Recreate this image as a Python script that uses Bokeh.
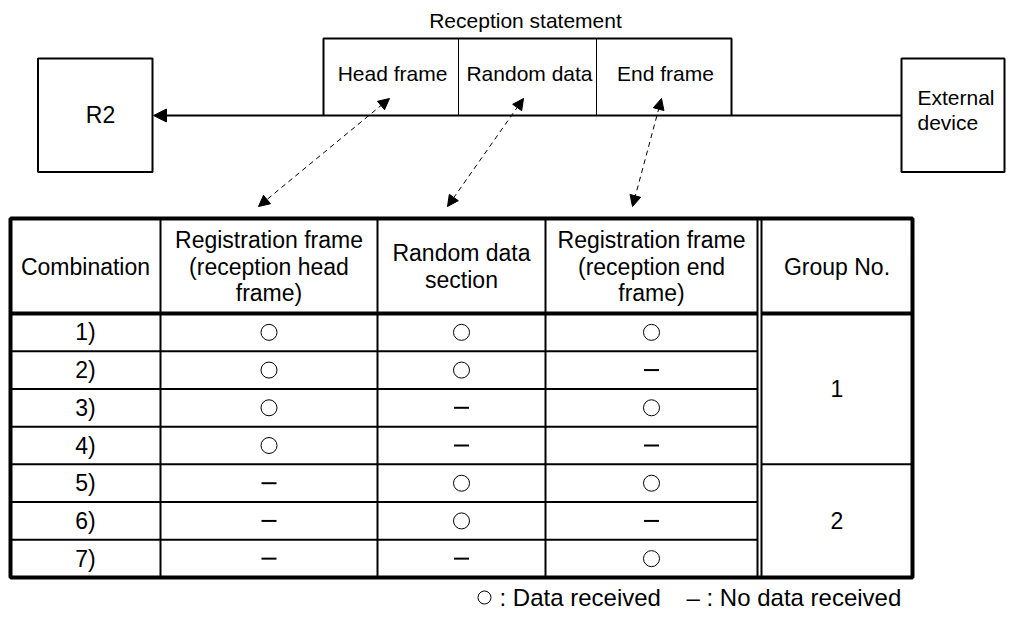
from bokeh.plotting import figure
from bokeh.models import Range1d, Arrow, NormalHead
from bokeh.core.properties import value
from bokeh.embed import file_html
from bokeh.resources import INLINE

# ---------------- data ----------------
frame_parts = ["Head frame", "Random data", "End frame"]
combinations = ["1)", "2)", "3)", "4)", "5)", "6)", "7)"]
head_frame = ["○", "○", "○", "○", "–", "–", "–"]
random_data = ["○", "○", "–", "–", "○", "○", "–"]
end_frame = ["○", "–", "○", "–", "○", "–", "○"]
group_no = [1, 1, 1, 1, 2, 2, 2]
header_lines = [
    ["Combination"],
    ["Registration frame", "(reception head", "frame)"],
    ["Random data", "section"],
    ["Registration frame", "(reception end", "frame)"],
    ["Group No."],
]
legend_labels = [": Data received", "– : No data received"]

FONT = value("Liberation Sans")

# ---------------- layout (pixel coordinates of the page) ----------------
W, H = 1014, 621
p = figure(width=W, height=H, x_range=Range1d(0, W), y_range=Range1d(H, 0),
           output_backend="svg", toolbar_location=None,
           x_axis_location=None, y_axis_location=None, min_border=0)
p.grid.visible = False
p.outline_line_color = None
p.background_fill_color = "white"
p.border_fill_color = "white"

# ---- top diagram ----
LINE_Y = 115
rec_left, rec_right, rec_top = 323, 731, 38
rec_divs = [458, 596]
p.quad(left=[37.5], right=[152], top=[58], bottom=[171.5], fill_color=None, line_color="black", line_width=2)
p.quad(left=[901], right=[1004], top=[58], bottom=[171.5], fill_color=None, line_color="black", line_width=2)
# reception statement box (3 sides, bottom is the line)
p.multi_line(xs=[[rec_left, rec_left, rec_right, rec_right]], ys=[[LINE_Y, rec_top, rec_top, LINE_Y]],
             line_color="black", line_width=2)
p.segment(x0=rec_divs, x1=rec_divs, y0=[rec_top] * 2, y1=[LINE_Y] * 2, line_color="black", line_width=1)
p.add_layout(Arrow(end=NormalHead(size=13, fill_color="black", line_color="black", line_width=1),
                   x_start=901, y_start=LINE_Y, x_end=153, y_end=LINE_Y,
                   line_color="black", line_width=2))

p.text(x=[525], y=[20], text=["Reception statement"], text_font=FONT, text_font_size="21px",
       text_align="center", text_baseline="middle", text_color="black")
part_cx = [392, 529, 665]
p.text(x=part_cx, y=[73] * 3, text=frame_parts, text_font=FONT, text_font_size="21px",
       text_align="center", text_baseline="middle", text_color="black")
p.text(x=[100], y=[114], text=["R2"], text_font=FONT, text_font_size="23px",
       text_align="center", text_baseline="middle", text_color="black")
p.text(x=[917, 917], y=[97, 122], text=["External", "device"], text_font=FONT, text_font_size="21px",
       text_align="left", text_baseline="middle", text_color="black")

# dashed double arrows
arrow_top = [(389, 98), (523, 98), (661, 98)]
arrow_bot = [(258, 206), (447, 206), (632, 206)]
for (xs, ys), (xe, ye) in zip(arrow_top, arrow_bot):
    p.add_layout(Arrow(start=NormalHead(size=11, fill_color="black", line_color="black", line_width=1),
                       end=NormalHead(size=11, fill_color="black", line_color="black", line_width=1),
                       x_start=xs, y_start=ys, x_end=xe, y_end=ye,
                       line_color="black", line_width=1, line_dash="5 4"))

# ---- table ----
T_LEFT, T_RIGHT, T_TOP, H_BOT = 10, 912, 218, 313
ROW_H = (577 - 313) / 7
col_x = [160, 377, 545]
dbl = [757, 761]
row_y = [H_BOT + ROW_H * k for k in range(8)]

# thin inner vertical lines
p.segment(x0=col_x + dbl, x1=col_x + dbl, y0=[T_TOP] * 5, y1=[row_y[-1]] * 5, line_color="black", line_width=2)
# thin row lines
inner = row_y[1:-1]
p.segment(x0=[T_LEFT] * len(inner), x1=[dbl[0]] * len(inner), y0=inner, y1=inner, line_color="black", line_width=2)
# group separator
grp_break = [row_y[k] for k in range(1, 7) if group_no[k] != group_no[k - 1]]
p.segment(x0=[dbl[1]] * len(grp_break), x1=[T_RIGHT] * len(grp_break), y0=grp_break, y1=grp_break,
          line_color="black", line_width=2)
# header bottom thick
p.segment(x0=[T_LEFT, dbl[1]], x1=[dbl[0], T_RIGHT], y0=[H_BOT] * 2, y1=[H_BOT] * 2, line_color="black", line_width=4)
# outer border
p.quad(left=[T_LEFT], right=[T_RIGHT], top=[T_TOP], bottom=[row_y[-1]], fill_color=None, line_color="black", line_width=4)

# header text
col_edges = [T_LEFT] + col_x + [dbl[0]]
col_cx = [(col_edges[i] + col_edges[i + 1]) / 2 for i in range(4)] + [(dbl[1] + T_RIGHT) / 2]
hx, hy, ht = [], [], []
H_MID, LINE_H = 266, 26.5
for cx, lines in zip(col_cx, header_lines):
    n = len(lines)
    for i, t in enumerate(lines):
        hx.append(cx)
        hy.append(H_MID + (i - (n - 1) / 2) * LINE_H)
        ht.append(t)
p.text(x=hx, y=hy, text=ht, text_font=FONT, text_font_size="23px",
       text_align="center", text_baseline="middle", text_color="black")

row_cy = [(row_y[k] + row_y[k + 1]) / 2 for k in range(7)]
p.text(x=[col_cx[0]] * 7, y=row_cy, text=combinations, text_font=FONT, text_font_size="23px",
       text_align="center", text_baseline="middle", text_color="black")

cx_o, cy_o, cx_d, cy_d = [], [], [], []
for ci, col in enumerate([head_frame, random_data, end_frame]):
    for ri, v in enumerate(col):
        if v == "○":
            cx_o.append(col_cx[ci + 1]); cy_o.append(row_cy[ri])
        else:
            cx_d.append(col_cx[ci + 1]); cy_d.append(row_cy[ri])
p.scatter(x=cx_o, y=cy_o, marker="circle", size=16, fill_color=None, line_color="black", line_width=1)
p.scatter(x=cx_d, y=cy_d, marker="dash", size=15, line_color="black", line_width=2)

# group numbers
groups = sorted(set(group_no))
gy, gt = [], []
for g in groups:
    idx = [i for i, v in enumerate(group_no) if v == g]
    gy.append((row_y[idx[0]] + row_y[idx[-1] + 1]) / 2)
    gt.append(str(g))
p.text(x=[col_cx[4]] * len(gt), y=gy, text=gt, text_font=FONT, text_font_size="23px",
       text_align="center", text_baseline="middle", text_color="black")

# legend
LEG_Y = 597
p.scatter(x=[484], y=[LEG_Y], marker="circle", size=13, fill_color=None, line_color="black", line_width=1)
p.text(x=[499, 686], y=[LEG_Y, LEG_Y], text=legend_labels, text_font=FONT, text_font_size="24px",
       text_align="left", text_baseline="middle", text_color="black")

open("out.html", "w").write(file_html(p, INLINE))
